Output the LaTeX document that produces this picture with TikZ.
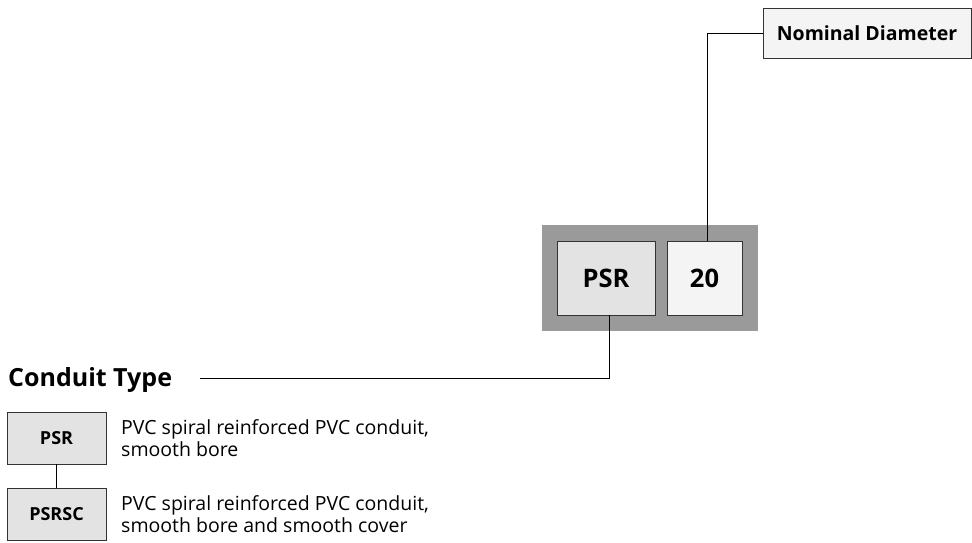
\documentclass[tikz,border=0pt]{standalone}
\usepackage{fontspec}
\setmainfont{Open Sans}
\begin{document}
\begin{tikzpicture}[x=1pt,y=-1pt,
  box/.style={draw=black!80,line width=0.8pt,inner sep=0pt},
  conn/.style={draw=black,line width=0.8pt},
  lbl/.style={font=\bfseries\fontsize{18}{20}\selectfont},
  big/.style={font=\bfseries\fontsize{25.5}{28}\selectfont},
  desc/.style={font=\fontsize{19.5}{22}\selectfont,align=left,anchor=west,inner sep=0pt}]
\useasboundingbox (0,0) rectangle (972,543);
\fill[fill={rgb,255:red,154;green,154;blue,154}] (542,225) rectangle (758,331);
\node[box,fill={rgb,255:red,227;green,227;blue,227},minimum width=98pt,minimum height=74pt,big] (psr) at (606,278) {PSR};
\node[box,fill={rgb,255:red,244;green,244;blue,244},minimum width=75pt,minimum height=74pt,big] (dn) at (704.5,278) {20};
\node[box,fill={rgb,255:red,244;green,244;blue,244},minimum width=208pt,minimum height=50pt,font=\bfseries\fontsize{19.5}{22}\selectfont] (nd) at (867,33) {Nominal Diameter};
\node[anchor=west,inner sep=0pt,font=\bfseries\fontsize{25}{28}\selectfont] (ct) at (8,380) {Conduit Type};
\coordinate (ctend) at (200,378);
\coordinate (ctc) at (609,378);
\coordinate (ndc) at (707,33);
\draw[conn] (ctend) -- (ctc) -- (psr.south -| ctc);
\draw[conn] (dn.north -| ndc) -- (ndc) -- (nd.west);
\node[box,fill={rgb,255:red,227;green,227;blue,227},minimum width=99pt,minimum height=52pt,lbl] (s1) at (56.5,438) {PSR};
\node[box,fill={rgb,255:red,227;green,227;blue,227},minimum width=99pt,minimum height=52pt,lbl] (s2) at (56.5,514) {PSRSC};
\draw[conn] (s1) -- (s2);
\node[desc] (d1) at (121,438) {PVC spiral reinforced PVC conduit,\\smooth bore};
\node[desc] (d2) at (121,514) {PVC spiral reinforced PVC conduit,\\smooth bore and smooth cover};
\end{tikzpicture}
\end{document}
